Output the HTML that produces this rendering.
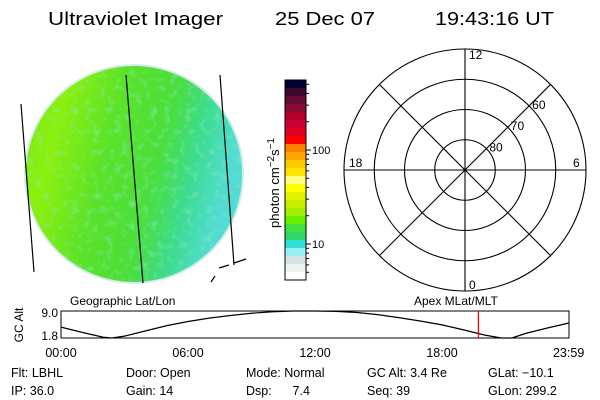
<!DOCTYPE html>
<html><head><meta charset="utf-8"><style>
html,body{margin:0;padding:0;background:#fff;width:600px;height:400px;overflow:hidden}
svg{display:block;font-family:"Liberation Sans",sans-serif}
</style></head><body>
<svg id="main" width="600" height="400" viewBox="0 0 600 400">
<defs>
 <linearGradient id="earthGrad" x1="0" y1="0" x2="1" y2="0.25">
  <stop offset="0" stop-color="#78ea14"/>
  <stop offset="0.2" stop-color="#8cf00c"/>
  <stop offset="0.45" stop-color="#5ae228"/>
  <stop offset="0.68" stop-color="#4ade3c"/>
  <stop offset="0.84" stop-color="#3cdc90"/>
  <stop offset="1" stop-color="#50dcd4"/>
 </linearGradient>
 <filter id="noise" x="0" y="0" width="1" height="1">
  <feTurbulence type="fractalNoise" baseFrequency="0.14" numOctaves="2" seed="4"/>
  <feColorMatrix type="matrix" values="0 0 0 0 0.25  0 0 0 0 0.84  0 0 0 0 0.45  0 0 0 2.4 -1.2"/>
 </filter>
 <clipPath id="disk"><circle cx="134" cy="174" r="109"/></clipPath>
</defs>
<g font-size="18" fill="#000">
 <text x="48" y="25" textLength="175" lengthAdjust="spacingAndGlyphs">Ultraviolet Imager</text>
 <text x="275" y="25" textLength="100" lengthAdjust="spacingAndGlyphs">25 Dec 07</text>
 <text x="435" y="25" textLength="119" lengthAdjust="spacingAndGlyphs">19:43:16 UT</text>
</g>
<g>
 <circle cx="134" cy="174" r="110" fill="#d8ecec"/>
 <circle cx="134" cy="174" r="108" fill="url(#earthGrad)"/>
 <rect x="20" y="60" width="230" height="230" filter="url(#noise)" clip-path="url(#disk)" opacity="0.6"/>
 <g stroke="#000" stroke-width="1.2" fill="none">
  <line x1="21" y1="104" x2="34" y2="272"/>
  <line x1="126" y1="75" x2="143" y2="283"/>
  <line x1="220" y1="75" x2="234" y2="265"/>
  <polyline points="234,263 246,259"/>
  <polyline points="219,268 229,265"/>
  <polyline points="211,282 215,276"/>
 </g>
</g>
<g id="cbar"></g>
<text transform="translate(279,183) rotate(-90)" text-anchor="middle" font-size="13">photon cm<tspan dy="-5" font-size="10">−2</tspan><tspan dy="5">s</tspan><tspan dy="-5" font-size="10">−1</tspan></text>
<g id="polar" fill="none" stroke="#000"></g>
<g id="alt"></g>
<g font-size="12.5" fill="#000">
 <text x="11" y="377">Flt: LBHL</text>
 <text x="11" y="395">IP: 36.0</text>
 <text x="126" y="377">Door: Open</text>
 <text x="126" y="395">Gain: 14</text>
 <text x="246" y="377">Mode: Normal</text>
 <text x="246" y="395">Dsp:&#160;&#160;&#160;&#160;&#160;&#160;7.4</text>
 <text x="367" y="377">GC Alt: 3.4 Re</text>
 <text x="367" y="395">Seq: 39</text>
 <text x="488" y="377">GLat: −10.1</text>
 <text x="488" y="395">GLon: 299.2</text>
</g>
</svg>
<script>
var NS='http://www.w3.org/2000/svg';
function mk(tag,attrs,parent){var e=document.createElementNS(NS,tag);for(var k in attrs)e.setAttribute(k,attrs[k]);parent.appendChild(e);return e;}

// colorbar
var cbColors=['#000033','#3a0a2e','#650a32','#8a0a32','#b0002c','#cc0030','#e00020','#ff0000','#ff7f00','#ffa500','#ffc800','#ffe400','#ffff80','#ffff00','#e4f400','#c4f000','#a4f000','#66f000','#44e040','#30d868','#30e0d4','#98f0f4','#d4e4e4','#eaf4ee','#ffffff'];
var cbTicks=[10,100];
var cbTickLabels=['10','100'];
var cb=document.getElementById('cbar');
var cbX=285,cbW=21,cbY0=80,cbY1=280,bh=(cbY1-cbY0)/cbColors.length;
cbColors.forEach(function(c,i){
 var r=mk('rect',{x:cbX,y:cbY0+i*bh,width:cbW,height:bh+0.5,fill:c},cb);
 
 
});
var fr=mk('rect',{x:cbX,y:cbY0,width:cbW,height:cbY1-cbY0,fill:'none',stroke:'#000'},cb);


function cbScale(v){return 244+(Math.log10(10)-Math.log10(v))*94;}
[3,4,5,6,7,8,9,10,20,30,40,50,60,70,80,90,100,200,300,400,500].forEach(function(v){
 var y=cbScale(v); if(y<cbY0||y>cbY1)return;
 var big=(v===10||v===100);
 var t=mk('line',{x1:cbX+cbW,x2:cbX+cbW+(big?5:3),y1:y,y2:y,stroke:'#000'},cb);
 
 
});
cbTicks.forEach(function(v,i){
 var t=mk('text',{x:cbX+cbW+6,y:cbScale(v)+4,'font-size':'11',fill:'#000'},cb);
 t.textContent=cbTickLabels[i];
 
 
});

// polar
var polarLats=[80,70,60,50];
var polarLatLabels=['80','70','60'];
var polarMLT=['12','6','0','18'];
var P=document.getElementById('polar');
var pcx=465,pcy=170,pR=121;
function pr(lat){return (90-lat)/40*pR;}
polarLats.forEach(function(l){
 var c=mk('circle',{cx:pcx,cy:pcy,r:pr(l),'stroke-width':'1.1'},P);
 
 
});
for(var k=0;k<8;k++){
 var a=k*Math.PI/4;
 var l=mk('line',{x1:pcx,y1:pcy,x2:pcx+pR*Math.cos(a),y2:pcy+pR*Math.sin(a),'stroke-width':'1.1'},P);
 
 
}
polarLatLabels.forEach(function(s,i){
 var r=pr(+s), a=-Math.PI/4;
 var t=mk('text',{x:pcx+r*Math.cos(a)+3,y:pcy+r*Math.sin(a)+3,'font-size':'12',fill:'#000',stroke:'none'},P);
 t.textContent=s;
 
 
});
var mltPos=[[pcx+4,pcy-pR+10],[pcx+pR-13,pcy-3],[pcx+4,pcy+pR-2],[pcx-pR+5,pcy-3]];
polarMLT.forEach(function(s,i){
 var t=mk('text',{x:mltPos[i][0],y:mltPos[i][1],'font-size':'12',fill:'#000',stroke:'none'},P);
 t.textContent=s;
 
 
});

// altitude panel
var altHours=[0,1,2,2.4,3,4,5,6,7,8,9,10,11,12,13,14,15,16,17,18,19,20,20.8,21.3,22,23,24];
var altValues=[4.7,3.3,2.0,1.8,2.3,3.7,5.1,6.2,7.1,7.8,8.4,8.8,9.0,9.0,8.9,8.6,8.0,7.2,6.3,5.3,4.0,2.6,1.8,1.8,3.1,4.5,5.8];
var altTicks=[9.0,1.8];
var timeTicks=[0,6,12,18,23.983];
var timeTickLabels=['00:00','06:00','12:00','18:00','23:59'];
var currentHour=19.72;
var A=document.getElementById('alt');
var ax0=61,ax1=569,ay0=311,ay1=338;
function xs(h){return ax0+(ax1-ax0)*h/24;}
function ys(v){return ay1-(v-1.8)/(9.0-1.8)*(ay1-ay0);}
var box=mk('rect',{x:ax0,y:ay0,width:ax1-ax0,height:ay1-ay0,fill:'none',stroke:'#000'},A);


var pts=altHours.map(function(h,i){return xs(h)+','+ys(altValues[i]);}).join(' ');
var pl=mk('polyline',{points:pts,fill:'none',stroke:'#000','stroke-width':'1.2'},A);


var rl=mk('line',{x1:xs(currentHour),x2:xs(currentHour),y1:ay0,y2:ay1,stroke:'#ff0000','stroke-width':'1.3'},A);


altTicks.forEach(function(v){
 var t=mk('text',{x:ax0-3,y:ys(v)+(v>5?6:2),'text-anchor':'end','font-size':'12',fill:'#000'},A);
 t.textContent=v.toFixed(1);
 
 
});
timeTicks.forEach(function(h,i){
 var t=mk('text',{x:xs(h),y:357,'text-anchor':'middle','font-size':'12.5',fill:'#000'},A);
 t.textContent=timeTickLabels[i];
 
 
});
var yt=mk('text',{transform:'translate(23,325) rotate(-90)','text-anchor':'middle','font-size':'12',fill:'#000'},A);
yt.textContent='GC Alt';


var g1=mk('text',{x:70,y:305,'font-size':'12',fill:'#000'},A);
g1.textContent='Geographic Lat/Lon';


var g2=mk('text',{x:414,y:305,'font-size':'12',fill:'#000'},A);
g2.textContent='Apex MLat/MLT';


</script>
</body></html>
